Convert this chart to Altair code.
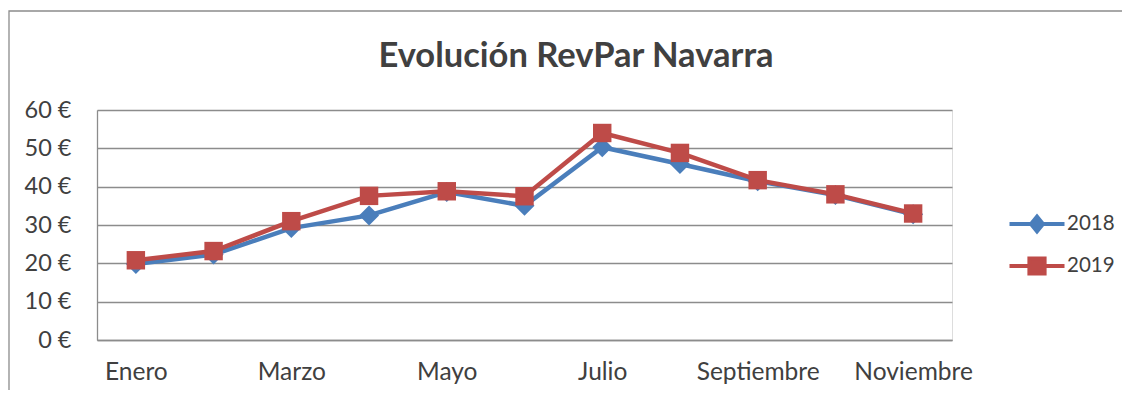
import altair as alt
import pandas as pd

months = ["Enero", "Febrero", "Marzo", "Abril", "Mayo", "Junio", "Julio",
          "Agosto", "Septiembre", "Octubre", "Noviembre"]
shown_months = ["Enero", "Marzo", "Mayo", "Julio", "Septiembre", "Noviembre"]
years = ["2018", "2019"]
v2018 = [19.8, 22.3, 29.2, 32.5, 38.6, 35.0, 50.3, 45.9, 41.4, 37.8, 32.8]
v2019 = [20.8, 23.2, 31.0, 37.6, 38.8, 37.5, 54.0, 48.8, 41.7, 38.0, 33.0]
colors = ["#4A7EBB", "#BE4B48"]
y_ticks = [0, 10, 20, 30, 40, 50, 60]
title_text = "Evolución RevPar Navarra"

rows = []
for m, a, b in zip(months, v2018, v2019):
    rows.append({"mes": m, "year": "2018", "revpar": a})
    rows.append({"mes": m, "year": "2019", "revpar": b})
df = pd.DataFrame(rows)

FONT = "Lato"
TXT = "#404040"
GRID = "#8C8C8C"

diamond_path = "M-1.375,0L1.375,0M-0.3,0L0,-0.37L0.3,0L0,0.37Z"
square_path = "M-1.375,0L1.375,0M-0.38,-0.38L0.38,-0.38L0.38,0.38L-0.38,0.38Z"

legend = alt.Legend(
    orient="none", legendX=918, legendY=92, title=None,
    symbolType=alt.ExprRef(f"datum.value === '2018' ? '{diamond_path}' : '{square_path}'"),
    symbolFillColor=alt.ExprRef(f"datum.value === '2018' ? '{colors[0]}' : '{colors[1]}'"),
    symbolSize=1600, symbolStrokeWidth=4, symbolOpacity=1,
    labelFont=FONT, labelFontSize=20.5, labelColor=TXT, labelOffset=8,
    rowPadding=4, padding=0,
)

color = alt.Color("year:N", scale=alt.Scale(domain=years, range=colors), legend=legend)
x = alt.X("mes:N", sort=months, scale=alt.Scale(domain=months, padding=0.5),
          axis=alt.Axis(values=shown_months, labelAngle=0, title=None, ticks=False,
                        tickSize=0, labelPadding=20, labelFont=FONT, labelFontSize=24.5,
                        labelColor=TXT, domainColor=GRID, domainWidth=1.3, grid=False))
y = alt.Y("revpar:Q", scale=alt.Scale(domain=[0, 60], nice=False),
          axis=alt.Axis(values=y_ticks, title=None, ticks=False, tickSize=0,
                        labelPadding=26, labelFont=FONT, labelFontSize=23.5,
                        labelColor=TXT, labelExpr="datum.value + ' €'",
                        domainColor=GRID, domainWidth=1.3,
                        grid=True, gridColor=GRID, gridWidth=1.3))

base = alt.Chart(df)
layers = []
for yr, shp, sz in [("2018", "diamond", 400), ("2019", "square", 340)]:
    sub = base.transform_filter(alt.datum.year == yr)
    layers.append(sub.mark_line(strokeWidth=4.5).encode(x=x, y=y, color=color))
    layers.append(sub.mark_point(shape=shp, size=sz, filled=True, opacity=1)
                  .encode(x=x, y=y, color=color))

one = alt.Data(values=[{"k": 1}])
frame = alt.Chart(one).mark_rect(
    fill="transparent", stroke=GRID, strokeWidth=1.3, clip=False
).encode(x=alt.value(-88), x2=alt.value(1050), y=alt.value(-99), y2=alt.value(320))

title = alt.Chart(one).mark_text(
    text=title_text, font=FONT, fontSize=34.5, fontWeight="bold", color=TXT,
    align="center", baseline="alphabetic", clip=False
).encode(x=alt.value(479), y=alt.value(-43))

chart = alt.layer(frame, title, *layers).properties(
    width=855, height=230,
    autosize=alt.AutoSizeParams(type="none"),
    padding={"left": 89, "top": 102, "right": 170, "bottom": 50},
).configure_view(stroke=None).configure(background="white")

chart.save("out.html", embed_options={"renderer": "svg", "actions": False})
